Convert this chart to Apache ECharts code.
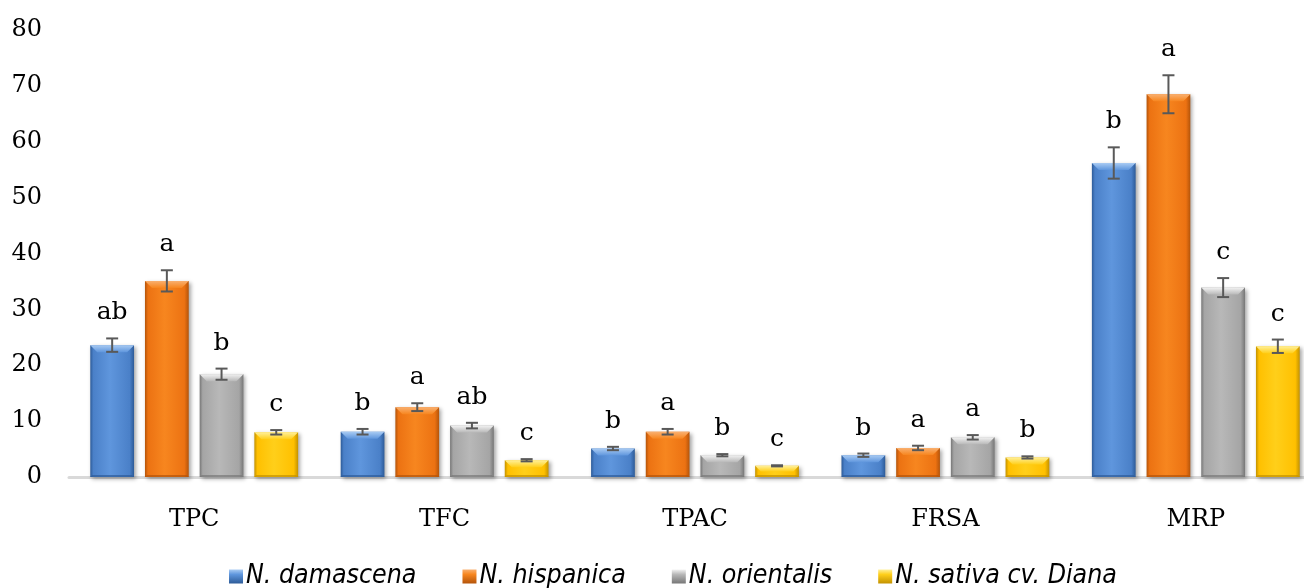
<!DOCTYPE html>
<html>
<head>
<meta charset="utf-8">
<script src="https://cdn.jsdelivr.net/npm/echarts@6/dist/echarts.min.js"></script>
<style>
  html, body { margin: 0; padding: 0; background: #fff; }
  #chart { width: 1304px; height: 588px; }
</style>
</head>
<body>
<div id="chart"></div>
<script>
// Assays and y-axis ticks
const categories = ['TPC', 'TFC', 'TPAC', 'FRSA', 'MRP'];
const yTicks = [0, 10, 20, 30, 40, 50, 60, 70, 80];

// Mean values per species
const damascena  = [23.6, 8.1, 5.1, 3.9, 56.2];
const hispanica  = [35.1, 12.5, 8.1, 5.2, 68.5];
const orientalis = [18.4, 9.2, 3.9, 7.1, 33.9];
const sativa     = [8.0, 3.0, 2.0, 3.5, 23.4];

// Standard deviations
const damascenaErr  = [1.2, 0.5, 0.3, 0.3, 2.8];
const hispanicaErr  = [1.9, 0.7, 0.5, 0.4, 3.4];
const orientalisErr = [1.0, 0.5, 0.2, 0.4, 1.7];
const sativaErr     = [0.4, 0.2, 0.1, 0.2, 1.2];

// Significance letters
const damascenaLetters  = ['ab', 'b', 'b', 'b', 'b'];
const hispanicaLetters  = ['a', 'a', 'a', 'a', 'a'];
const orientalisLetters = ['b', 'ab', 'b', 'a', 'c'];
const sativaLetters     = ['c', 'c', 'c', 'b', 'c'];

const seriesNames = ['N. damascena', 'N. hispanica', 'N. orientalis', 'N. sativa cv. Diana'];

const palettes = [
  { top: '#a9cbf3', light: '#5f96dd', base: '#4a80c8', dark: '#2d5b98' },
  { top: '#f9b070', light: '#f7861f', base: '#ec7212', dark: '#b4540a' },
  { top: '#f2f2f2', light: '#b8b8b8', base: '#a5a5a5', dark: '#777777' },
  { top: '#fff09a', light: '#ffcf1a', base: '#ffc000', dark: '#c39200' }
];

const values = [damascena, hispanica, orientalis, sativa];
const errors = [damascenaErr, hispanicaErr, orientalisErr, sativaErr];
const letters = [damascenaLetters, hispanicaLetters, orientalisLetters, sativaLetters];

const GROUP_FILL = 1 - 0.17;   // share of a category taken by the bar group
const BAR_GAP = 0.25;          // gap between bars, relative to bar width
const N = 4;

function makeRender(si) {
  const pal = palettes[si];
  return function (params, api) {
    const cat = api.value(0);
    const v = api.value(1);
    const e = api.value(2);
    const catW = api.size([1, 0])[0];
    const groupW = catW * GROUP_FILL;
    const barW = groupW / (N + (N - 1) * BAR_GAP);
    const pitch = barW * (1 + BAR_GAP);
    const base = api.coord([cat, 0]);
    const cx = base[0] - groupW / 2 + barW / 2 + si * pitch;
    const yTop = api.coord([cat, v])[1];
    const yBase = base[1];
    const x0 = cx - barW / 2, x1 = cx + barW / 2;
    const h = yBase - yTop;
    const bev = Math.min(7, h / 2);
    const yHi = api.coord([cat, v + e])[1];
    const yLo = api.coord([cat, v - e])[1];
    const cap = 6;

    const bodyFill = new echarts.graphic.LinearGradient(0, 0, 1, 0, [
      { offset: 0, color: pal.dark },
      { offset: 0.07, color: pal.base },
      { offset: 0.45, color: pal.light },
      { offset: 0.9, color: pal.base },
      { offset: 1, color: pal.dark }
    ]);
    const topFill = new echarts.graphic.LinearGradient(0, 0, 0, 1, [
      { offset: 0, color: pal.top },
      { offset: 1, color: pal.light }
    ]);

    return {
      type: 'group',
      children: [
        {
          type: 'rect',
          shape: { x: x0, y: yTop, width: barW, height: h },
          style: {
            fill: bodyFill,
            shadowBlur: 4, shadowOffsetX: 2, shadowOffsetY: 2,
            shadowColor: 'rgba(0,0,0,0.35)'
          }
        },
        {
          type: 'polygon',
          shape: { points: [[x0, yTop], [x1, yTop], [x1 - bev, yTop + bev], [x0 + bev, yTop + bev]] },
          style: { fill: topFill }
        },
        {
          type: 'polygon',
          shape: { points: [[x0, yBase], [x1, yBase], [x1 - 2, yBase - 2], [x0 + 2, yBase - 2]] },
          style: { fill: pal.dark, opacity: 0.7 }
        },
        {
          type: 'line',
          shape: { x1: cx, y1: yHi, x2: cx, y2: yLo },
          style: { stroke: '#595959', lineWidth: 2 }
        },
        {
          type: 'line',
          shape: { x1: cx - cap, y1: yHi, x2: cx + cap, y2: yHi },
          style: { stroke: '#595959', lineWidth: 2 }
        },
        {
          type: 'line',
          shape: { x1: cx - cap, y1: yLo, x2: cx + cap, y2: yLo },
          style: { stroke: '#595959', lineWidth: 2 }
        },
        {
          type: 'text',
          style: {
            text: letters[si][params.dataIndex],
            x: cx, y: yHi - 13,
            align: 'center', verticalAlign: 'bottom',
            font: '25px "DejaVu Serif", serif',
            fill: '#000'
          }
        }
      ]
    };
  };
}

const chart = echarts.init(document.getElementById('chart'), null, { renderer: 'canvas' });

const series = seriesNames.map((name, si) => ({
  name: name,
  type: 'custom',
  renderItem: makeRender(si),
  itemStyle: { color: palettes[si].base },
  encode: { x: 0, y: 1 },
  data: values[si].map((v, i) => [i, v, errors[si][i]]),
  clip: false
}));

chart.setOption({
  animation: false,
  backgroundColor: '#ffffff',
  grid: {
    left: 69, top: 30, width: 1252, height: 447,
    containLabel: false,
    outerBoundsMode: 'none'
  },
  xAxis: {
    type: 'category',
    data: categories,
    axisTick: { show: false },
    axisLine: { show: true, lineStyle: { color: '#d9d9d9', width: 3 } },
    axisLabel: {
      margin: 31,
      fontFamily: 'DejaVu Serif',
      fontSize: 24,
      color: '#000'
    },
    splitLine: { show: false }
  },
  yAxis: {
    type: 'value',
    min: yTicks[0],
    max: yTicks[yTicks.length - 1],
    interval: yTicks[1] - yTicks[0],
    axisLine: { show: false },
    axisTick: { show: false },
    splitLine: { show: false },
    axisLabel: {
      margin: 27,
      fontFamily: 'DejaVu Serif',
      fontSize: 24,
      color: '#000'
    }
  },
  legend: {
    left: 224,
    top: 558,
    icon: 'rect',
    itemWidth: 14,
    itemHeight: 14,
    itemGap: 46,
    data: seriesNames.map((n, si) => ({
      name: n,
      itemStyle: {
        color: new echarts.graphic.LinearGradient(0, 0, 0, 1, [
          { offset: 0, color: palettes[si].top },
          { offset: 0.35, color: palettes[si].light },
          { offset: 1, color: palettes[si].dark }
        ])
      }
    })),
    textStyle: {
      fontFamily: '"DejaVu Sans Condensed", "DejaVu Sans", sans-serif',
      fontStyle: 'italic',
      fontSize: 26.5,
      color: '#000',
      padding: [0, 0, 0, -2]
    }
  },
  series: series
});
</script>
</body>
</html>
